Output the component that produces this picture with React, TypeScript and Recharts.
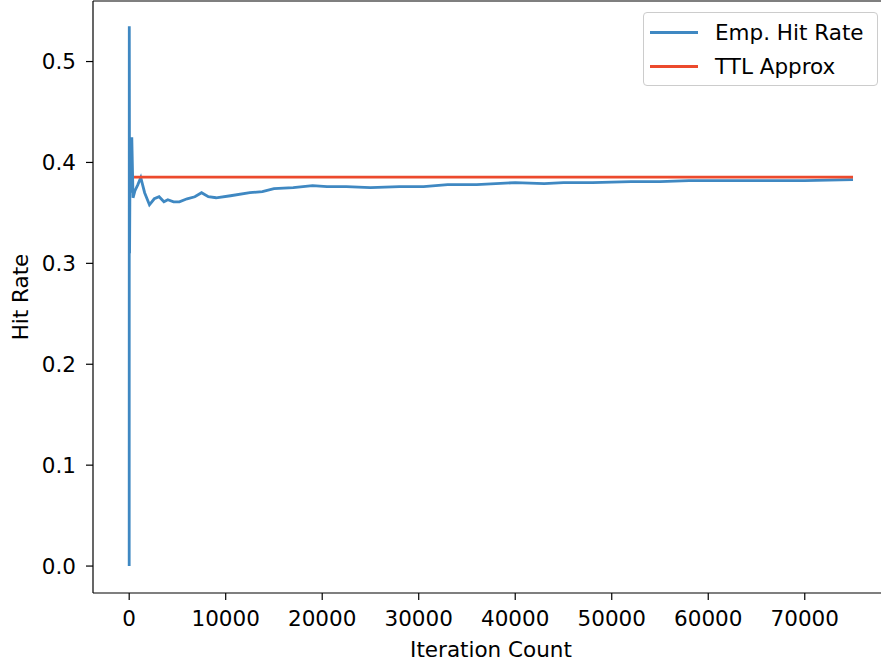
import React from "react";
import { LineChart, Line, XAxis, YAxis, ReferenceLine } from "recharts";

const iterations = [
  0, 10, 40, 90, 150, 270, 400, 600, 900, 1200, 1600, 2100, 2600, 3100, 3600,
  4000, 4600, 5200, 6000, 6800, 7500, 8200, 9000, 10500, 12500, 13800, 15000,
  17000, 19000, 20500, 22500, 25000, 28000, 30500, 33000, 36000, 40000, 43000,
  45000, 48000, 52000, 55000, 58000, 62000, 66000, 70000, 75000,
];
const hitRates = [
  0.0, 0.535, 0.31, 0.4, 0.37, 0.425, 0.365, 0.372, 0.378, 0.385, 0.37, 0.358,
  0.364, 0.366, 0.361, 0.363, 0.361, 0.361, 0.364, 0.366, 0.37, 0.366, 0.365,
  0.367, 0.37, 0.371, 0.374, 0.375, 0.377, 0.376, 0.376, 0.375, 0.376, 0.376,
  0.378, 0.378, 0.38, 0.379, 0.38, 0.38, 0.381, 0.381, 0.382, 0.382, 0.382,
  0.382, 0.383,
];

// TTL approximation (constant)
const ttlIterations = [500, 75000];
const ttlValues = [0.3855, 0.3855];

const xTicks = [0, 10000, 20000, 30000, 40000, 50000, 60000, 70000];
const yTicks = [0, 0.1, 0.2, 0.3, 0.4, 0.5];
const yMax = 0.56;
// visible part of the x range (the right spine falls just past the image edge)
const xDomain = [-3750, 77900];

const empData = iterations.map((x, i) => ({ x, emp: hitRates[i] }));
const ttlData = ttlIterations.map((x, i) => ({ x, ttl: ttlValues[i] }));

const BLUE = "#3f88c2";
const RED = "#ec4a2d";
const FONT = "'DejaVu Sans', sans-serif";
const FS = 21.5;

function LegendBox() {
  const items = [
    { label: "Emp. Hit Rate", color: BLUE },
    { label: "TTL Approx", color: RED },
  ];
  return (
    <div
      style={{
        position: "absolute",
        left: 643,
        top: 12,
        width: 235,
        height: 74,
        border: "1px solid #cccccc",
        borderRadius: 4,
        background: "rgba(255,255,255,0.8)",
        padding: "2px 0",
        fontFamily: FONT,
        fontSize: FS,
        color: "#000",
        boxSizing: "border-box",
      }}
    >
      {items.map((it) => (
        <div
          key={it.label}
          style={{ display: "flex", alignItems: "center", height: 34 }}
        >
          <div
            style={{
              width: 48,
              height: 3,
              background: it.color,
              marginLeft: 6,
              marginRight: 17,
            }}
          />
          <span>{it.label}</span>
        </div>
      ))}
    </div>
  );
}

export default function App() {
  return (
    <div
      style={{
        position: "absolute",
        left: 0,
        top: 0,
        width: 881,
        height: 663,
        overflow: "hidden",
        background: "#fff",
      }}
    >
      <LineChart
        width={881}
        height={663}
        margin={{ top: 1, right: 0, bottom: 0, left: 8 }}
      >
        <XAxis
          dataKey="x"
          type="number"
          domain={xDomain}
          ticks={xTicks}
          allowDataOverflow
          height={70}
          tickSize={7}
          tickMargin={11}
          tick={{ fontSize: FS, fontFamily: FONT, fill: "#000" }}
          axisLine={{ stroke: "#000", strokeWidth: 1.2 }}
          tickLine={{ stroke: "#000", strokeWidth: 1.2 }}
          label={{
            value: "Iteration Count",
            position: "insideBottom",
            offset: 6,
            dx: 4,
            style: { fontSize: FS, fontFamily: FONT, fill: "#000" },
          }}
        />
        <YAxis
          type="number"
          domain={[-0.0267, yMax]}
          ticks={yTicks}
          allowDataOverflow
          width={85}
          tickSize={7}
          tickMargin={10}
          tickFormatter={(v: number) => v.toFixed(1)}
          tick={{ fontSize: FS, fontFamily: FONT, fill: "#000" }}
          axisLine={{ stroke: "#000", strokeWidth: 1.2 }}
          tickLine={{ stroke: "#000", strokeWidth: 1.2 }}
          label={{
            value: "Hit Rate",
            angle: -90,
            position: "insideLeft",
            offset: 12,
            style: {
              fontSize: FS,
              fontFamily: FONT,
              fill: "#000",
              textAnchor: "middle",
            },
          }}
        />
        <ReferenceLine y={yMax} stroke="#000" strokeWidth={1.2} />
        <Line
          data={empData}
          dataKey="emp"
          type="linear"
          stroke={BLUE}
          strokeWidth={2.8}
          dot={false}
          isAnimationActive={false}
        />
        <Line
          data={ttlData}
          dataKey="ttl"
          type="linear"
          stroke={RED}
          strokeWidth={2.8}
          dot={false}
          isAnimationActive={false}
        />
      </LineChart>
      <LegendBox />
    </div>
  );
}
